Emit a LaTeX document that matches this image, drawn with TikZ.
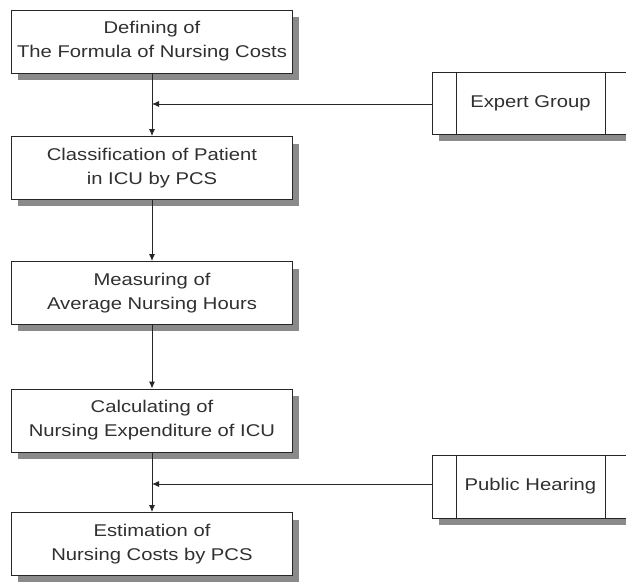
\documentclass[tikz,border=0pt]{standalone}
\usepackage{fontspec}
\setmainfont{Liberation Sans}[FakeStretch=1.19]
\usetikzlibrary{arrows.meta}
\definecolor{txt}{HTML}{303030}
\definecolor{shd}{HTML}{8A8A8A}
\tikzset{
  stepbox/.style={draw=black!85, fill=white, line width=0.9pt, minimum width=281pt, minimum height=63pt, inner sep=0pt, align=center, font=\fontsize{17}{24}\selectfont, text=txt},
  conn/.style={draw=black!85, line width=0.9pt, -{Latex[length=7pt,width=6pt]}},
  sidebox/.style={draw=black!85, fill=white, line width=0.9pt},
  sidetext/.style={font=\fontsize{17}{24}\selectfont, text=txt, anchor=center}
}
\begin{document}
\begin{tikzpicture}[x=1pt,y=-1pt]
\useasboundingbox (0,0) rectangle (626,584);
% shadows
\foreach \t/\b in {10/73,137/199,262/324,389/452,513/575}{
  \fill[shd] (18,\t+7) rectangle (299,\b+7);
}
\node[stepbox] (b1) at (152,41.5) {Defining of\\The Formula of Nursing Costs};
\node[stepbox] (b2) at (152,168) {Classification of Patient\\in ICU by PCS};
\node[stepbox] (b3) at (152,293) {Measuring of\\Average Nursing Hours};
\node[stepbox] (b4) at (152,420.5) {Calculating of\\Nursing Expenditure of ICU};
\node[stepbox] (b5) at (152,544) {Estimation of\\Nursing Costs by PCS};
% side boxes
\begin{scope}
\clip (0,0) rectangle (626,584);
\fill[shd] (439,79) rectangle (640,141);
\draw[sidebox] (432,72) rectangle (640,134);
\draw[black!85, line width=0.9pt] (456,72) -- (456,134) (605,72) -- (605,134);
\fill[shd] (439,462) rectangle (640,525);
\draw[sidebox] (432,455) rectangle (640,518);
\draw[black!85, line width=0.9pt] (456,455) -- (456,518) (605,455) -- (605,518);
\end{scope}
\node[sidetext] (eg) at (530.5,103) {Expert Group};
\node[sidetext] (ph) at (530.5,486.5) {Public Hearing};
\coordinate (egl) at (432,104);
\coordinate (phl) at (432,484);
\coordinate (j1) at (152,104);
\coordinate (j2) at (152,484);
% connectors
\draw[conn] (b1.south) -- (b2.north);
\draw[conn] (b2.south) -- (b3.north);
\draw[conn] (b3.south) -- (b4.north);
\draw[conn] (b4.south) -- (b5.north);
\draw[conn] (egl) -- (j1);
\draw[conn] (phl) -- (j2);
\end{tikzpicture}
\end{document}
